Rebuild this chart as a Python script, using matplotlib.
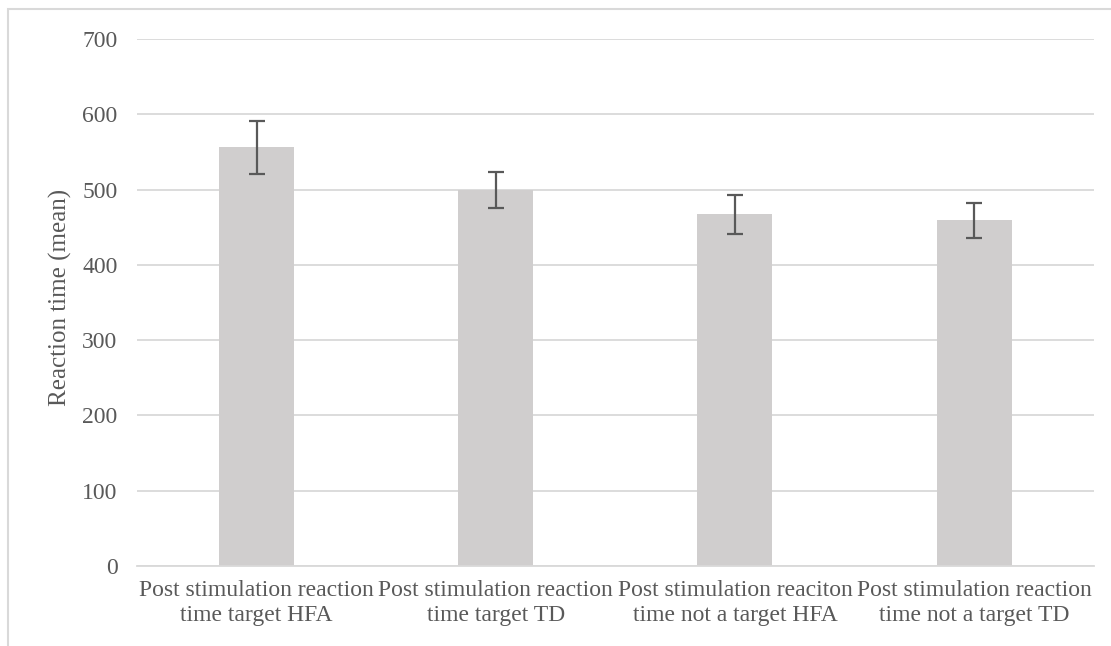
import matplotlib
matplotlib.use('Agg')
import matplotlib.pyplot as plt
from matplotlib.patches import Rectangle

# Data
categories = ['Post stimulation reaction\ntime target HFA',
              'Post stimulation reaction\ntime target TD',
              'Post stimulation reaciton\ntime not a target HFA',
              'Post stimulation reaction\ntime not a target TD']
means = [556, 499, 467, 459]
errors = [35, 24, 25.5, 23]
yticks = [0, 100, 200, 300, 400, 500, 600, 700]

plt.rcParams['font.family'] = ['Liberation Serif', 'DejaVu Serif']
text_color = '#595959'
grid_color = '#d9d9d9'
fs = 17

fig = plt.figure(figsize=(11.11, 6.46), dpi=100)
ax = fig.add_axes([137 / 1111, 1 - 566 / 646, (1093.7 - 137) / 1111, (566 - 39) / 646])

# chart frame (runs off the right and bottom edge)
fig.patches.append(Rectangle((8 / 1111, -0.1), 1.2, 1 - 9 / 646 + 0.1,
                             transform=fig.transFigure, fill=False,
                             edgecolor=grid_color, linewidth=1.5))

x = range(len(categories))
ax.bar(x, means, width=0.314, color='#d0cece', zorder=2)
ax.errorbar(x, means, yerr=errors, fmt='none', ecolor=text_color,
            elinewidth=1.6, capsize=6, capthick=1.6, zorder=3)

ax.set_xlim(-0.5, len(categories) - 0.5)
ax.set_ylim(0, 700)
ax.set_yticks(yticks)
ax.set_xticks(list(x))
ax.set_xticklabels(categories, fontsize=fs, color=text_color, linespacing=1.28)
ax.tick_params(axis='y', length=0, pad=14, labelsize=fs, labelcolor=text_color)
ax.tick_params(axis='x', length=0, pad=10)

ax.yaxis.grid(True, color=grid_color, linewidth=1.3, zorder=0)
ax.set_axisbelow(True)
for side in ['top', 'right', 'left']:
    ax.spines[side].set_visible(False)
ax.spines['bottom'].set_color(grid_color)
ax.spines['bottom'].set_linewidth(1.3)

ax.set_ylabel('Reaction time (mean)', fontsize=18, color=text_color)
ax.yaxis.set_label_coords((72 - 137) / (1093.7 - 137), 0.509)

fig.savefig('out.png', dpi=100)
